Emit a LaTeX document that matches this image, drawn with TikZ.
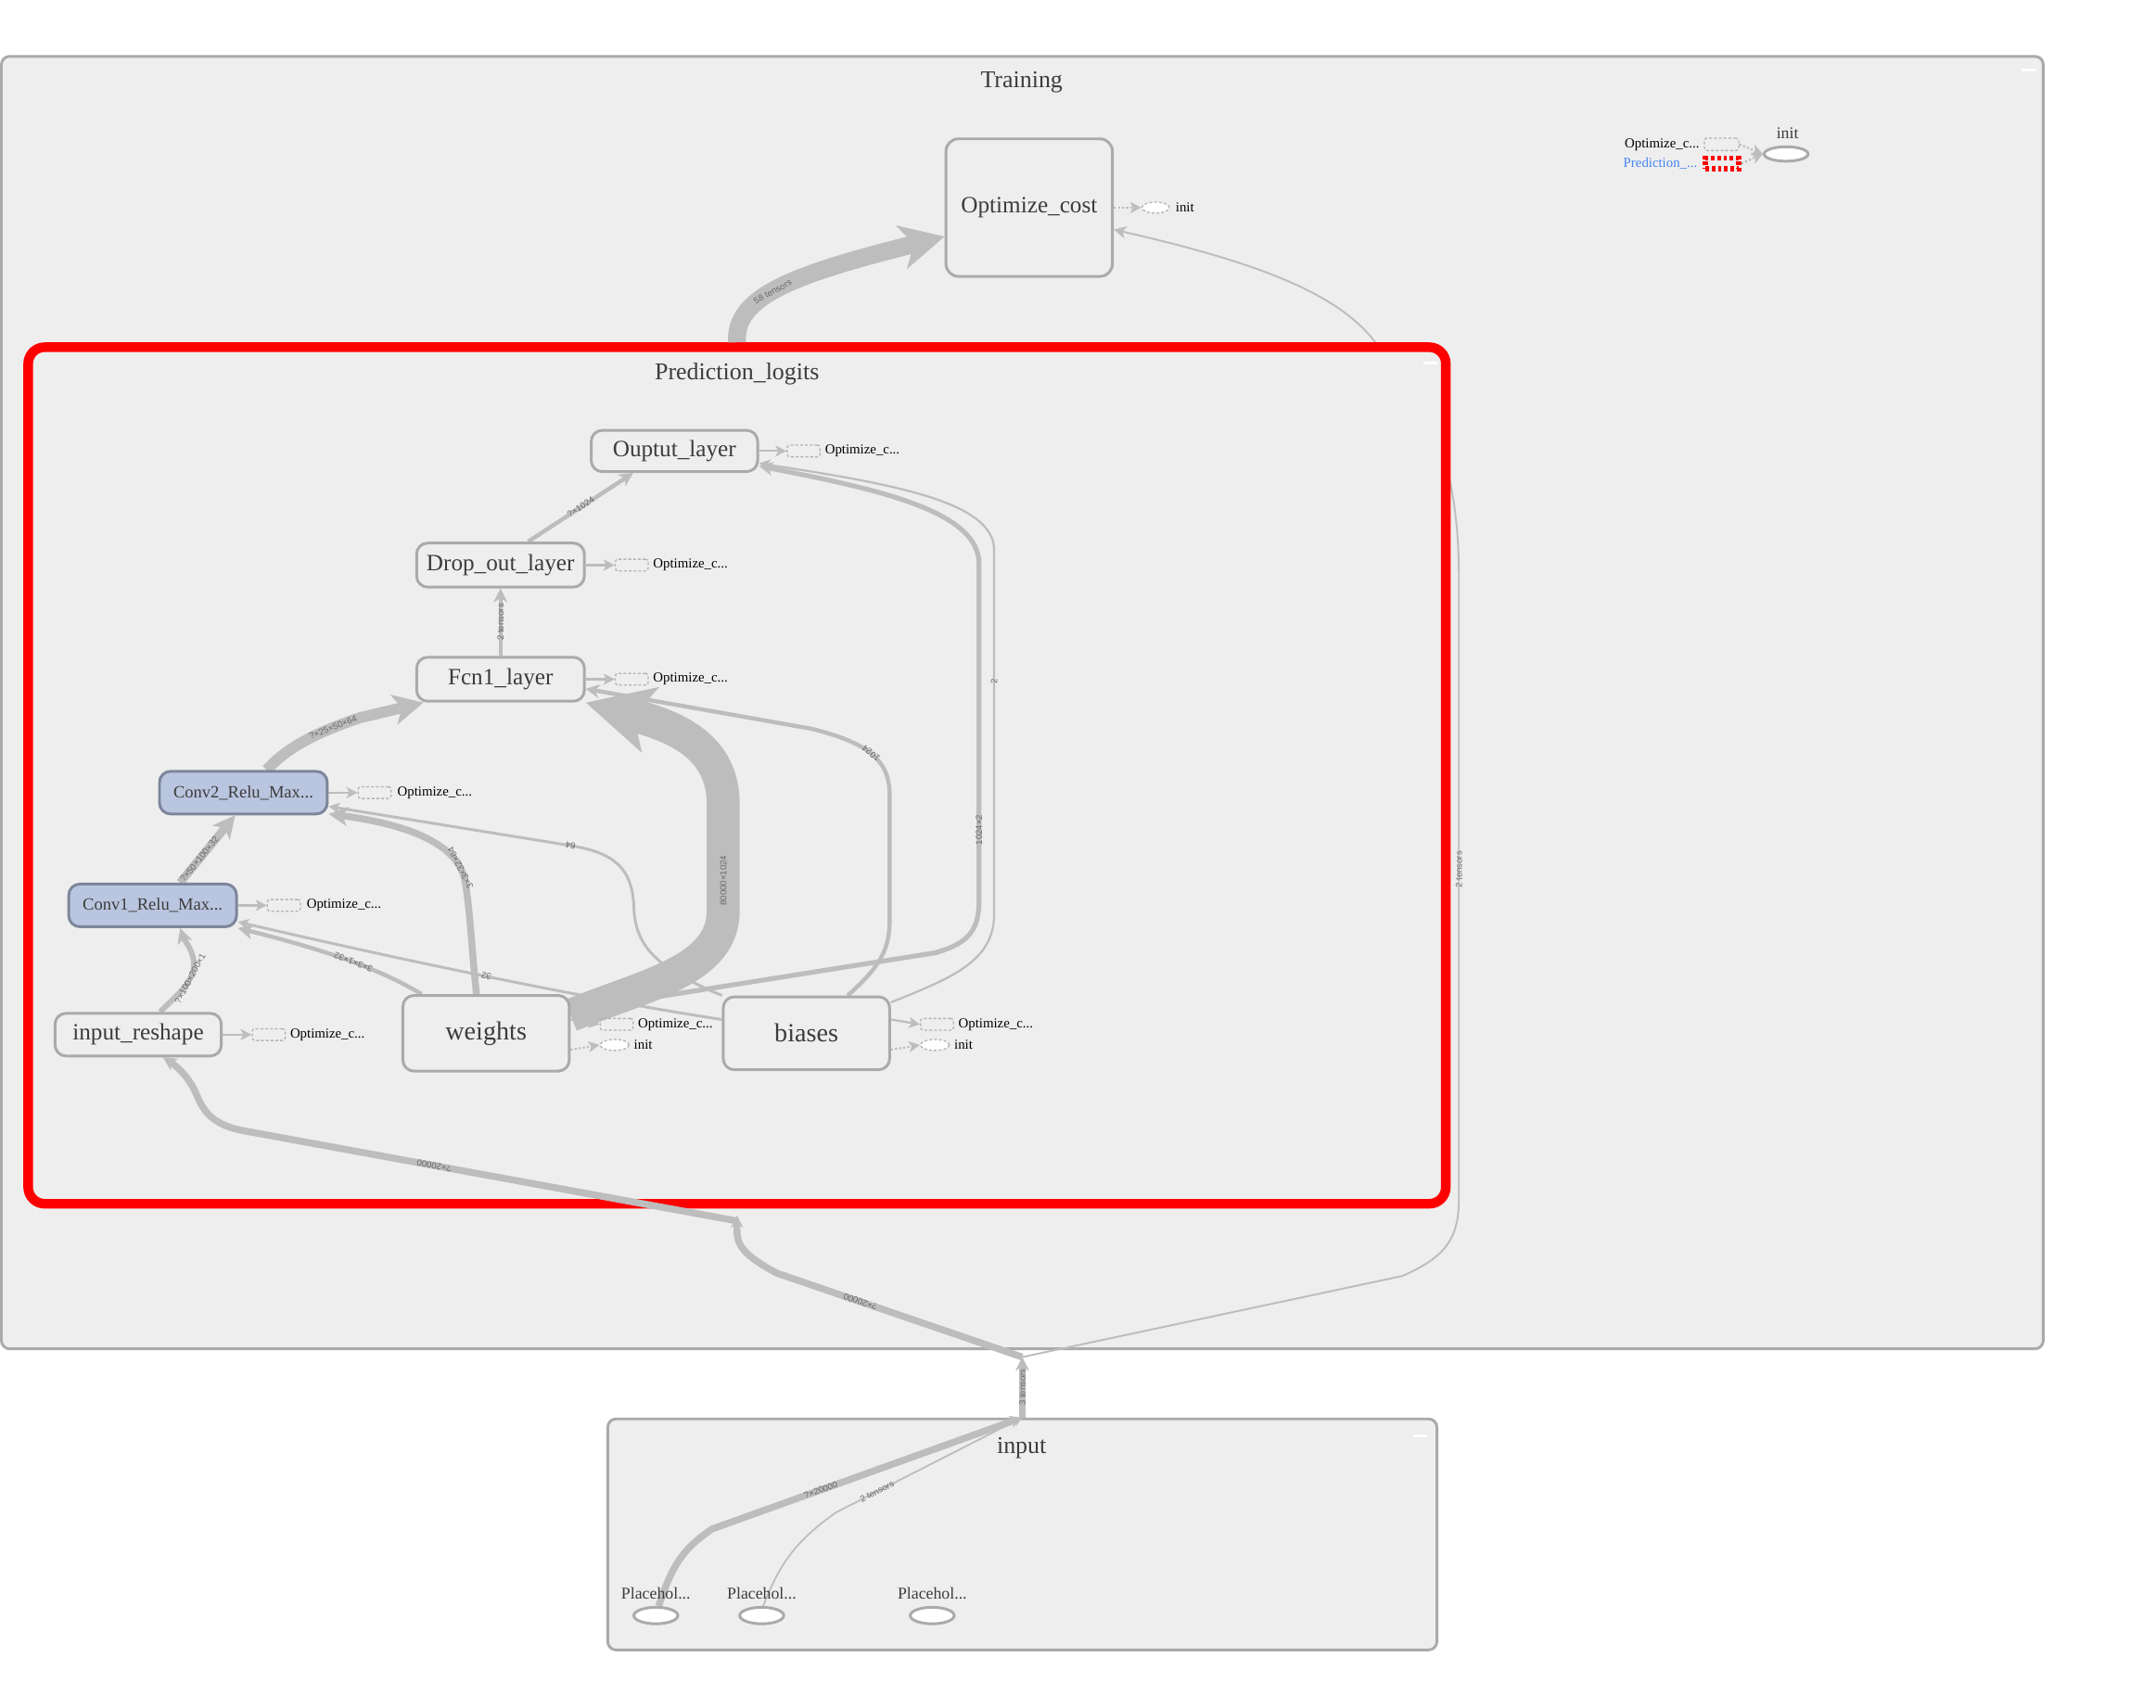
\documentclass[tikz,border=0pt]{standalone}
\usepackage{fontspec}
\setmainfont{Liberation Serif}
\newfontfamily\edgefont{Liberation Sans}
\usepackage{xcolor}
\usetikzlibrary{positioning, arrows.meta, shapes.geometric}

\definecolor{boxfill}{RGB}{238,238,238}
\definecolor{framegray}{RGB}{170,170,170}
\definecolor{edgegray}{RGB}{189,189,189}
\definecolor{labgray}{RGB}{105,105,105}
\definecolor{textgray}{RGB}{60,60,60}
\definecolor{convfill}{RGB}{186,197,223}
\definecolor{convline}{RGB}{125,134,155}
\definecolor{stubgray}{RGB}{178,178,178}
\definecolor{predblue}{RGB}{66,133,244}

\newcommand{\fsz}[1]{\fontsize{#1}{#1}\selectfont}

\pgfdeclarelayer{bg}
\pgfdeclarelayer{grp}
\pgfdeclarelayer{edges}
\pgfsetlayers{bg,grp,edges,main}

\begin{document}
\begin{tikzpicture}[
    x=1pt, y=-1pt,
    groupbox/.style={rectangle, draw=framegray, line width=2pt, fill=boxfill, rounded corners=6pt, inner sep=0pt},
    predbox/.style={rectangle, draw=red, line width=7pt, fill=boxfill, rounded corners=12pt, inner sep=0pt},
    grouptitle/.style={font=\fsz{17.5}, text=textgray},
    opnode/.style={rectangle, draw=framegray, line width=2pt, fill=boxfill, rounded corners=8pt, text=textgray, font=\fsz{17}, minimum width=121pt, minimum height=31pt, inner sep=0pt},
    convnode/.style={opnode, fill=convfill, draw=convline, font=\fsz{12.5}},
    varnode/.style={opnode, minimum height=54pt, font=\fsz{19}},
    stubrect/.style={rectangle, draw=stubgray, line width=0.9pt, dash pattern=on 2pt off 1.5pt, rounded corners=2pt, minimum width=24pt, minimum height=8.5pt, inner sep=0pt},
    stubell/.style={ellipse, draw=stubgray, line width=0.9pt, dash pattern=on 2pt off 1.5pt, fill=white, minimum width=21pt, minimum height=8pt, inner sep=0pt},
    stubtxt/.style={font=\fsz{10}, text=black, inner sep=0pt},
    phnode/.style={ellipse, draw=framegray, line width=2pt, fill=white, minimum width=32pt, minimum height=12pt, inner sep=0pt},
    phlab/.style={font=\fsz{12}, text=textgray},
    flow/.style={draw=edgegray, line width=#1},
    hd/.style 2 args={-{Stealth[length=#1, width=#1, inset=#2]}},
    outarr/.style={draw=edgegray, line width=1.5pt, -{Stealth[length=8pt, width=8pt, inset=2pt]}},
    ctrlarr/.style={draw=edgegray, line width=1.5pt, dash pattern=on 1.5pt off 1.5pt, -{Stealth[length=8pt, width=8pt, inset=2pt]}},
    elab/.style={font=\edgefont\fsz{6.5}, text=labgray, sloped, allow upside down, inner sep=1pt},
]
    \useasboundingbox (0,0) rectangle (1568,1242);

    % --- Training level ---
    \node[opnode, minimum height=100pt, rounded corners=9pt] (optcost) at (748.5,151) {Optimize\_cost};
    \node[stubell, minimum width=20pt, right=20pt of optcost] (oc-init) {};
    \node[stubtxt, right=4pt of oc-init] (oc-initlab) {init};

    \node[phnode, minimum height=10.5pt] (inittr) at (1299,112) {};
    \node[phlab] (inittrlab) at (1300,97) {init};
    \node[stubrect, minimum width=25pt, minimum height=9pt] (tr-opt) at (1252,105) {};
    \node[stubtxt, left=3pt of tr-opt] (tr-optlab) {Optimize\_c...};
    \node[rectangle, draw=red, line width=4pt, dash pattern=on 2.5pt off 2pt, minimum width=24pt, minimum height=8pt, inner sep=0pt] (tr-pred) at (1252.5,119) {};
    \node[stubtxt, text=predblue, left=4pt of tr-pred] (tr-predlab) {Prediction\_...};

    % --- Prediction_logits ---
    \node[opnode, minimum height=30pt] (ouptut) at (490.5,328) {Ouptut\_layer};
    \node[opnode, minimum width=122pt, minimum height=32pt] (dropout) at (364,411) {Drop\_out\_layer};
    \node[opnode, minimum width=122pt, minimum height=32pt] (fcn1) at (364,494) {Fcn1\_layer};
    \node[convnode, minimum width=122pt] (conv2) at (177,576.5) {Conv2\_Relu\_Max...};
    \node[convnode, minimum width=122pt] (conv1) at (111,658.5) {Conv1\_Relu\_Max...};
    \node[opnode] (reshape) at (100.5,752.5) {input\_reshape};
    \node[varnode, minimum height=55pt] (weights) at (353.5,751.5) {weights};
    \node[varnode, minimum height=53pt] (biases) at (586.5,751.5) {biases};

    \node[stubrect, right=20pt of ouptut] (ou-opt) {};
    \node[stubtxt, right=3pt of ou-opt] (ou-optlab) {Optimize\_c...};
    \node[stubrect, right=21pt of dropout] (do-opt) {};
    \node[stubtxt, right=3pt of do-opt] (do-optlab) {Optimize\_c...};
    \node[stubrect, right=21pt of fcn1] (fc-opt) {};
    \node[stubtxt, right=3pt of fc-opt] (fc-optlab) {Optimize\_c...};
    \node[stubrect, right=21pt of conv2] (c2-opt) {};
    \node[stubtxt, right=4pt of c2-opt] (c2-optlab) {Optimize\_c...};
    \node[stubrect, right=21pt of conv1] (c1-opt) {};
    \node[stubtxt, right=4pt of c1-opt] (c1-optlab) {Optimize\_c...};
    \node[stubrect, right=21pt of reshape] (rs-opt) {};
    \node[stubtxt, right=3pt of rs-opt] (rs-optlab) {Optimize\_c...};
    \node[stubrect, right=21pt of weights.east, yshift=6.5pt] (w-opt) {};
    \node[stubtxt, right=3pt of w-opt] (w-optlab) {Optimize\_c...};
    \node[stubell, right=21pt of weights.east, yshift=-8.5pt] (w-init) {};
    \node[stubtxt, right=3pt of w-init] (w-initlab) {init};
    \node[stubrect, right=21pt of biases.east, yshift=6.5pt] (b-opt) {};
    \node[stubtxt, right=3pt of b-opt] (b-optlab) {Optimize\_c...};
    \node[stubell, right=21pt of biases.east, yshift=-8.5pt] (b-init) {};
    \node[stubtxt, right=3pt of b-init] (b-initlab) {init};

    % --- input ---
    \node[phnode] (ph1) at (477,1175) {};
    \node[phnode] (ph2) at (554,1175) {};
    \node[phnode] (ph3) at (678,1175) {};
    \node[phlab] (ph1lab) at (477,1159) {Placehol...};
    \node[phlab] (ph2lab) at (554,1159) {Placehol...};
    \node[phlab] (ph3lab) at (678,1159) {Placehol...};

    % --- group titles and collapse marks ---
    \node[grouptitle] (traintitle) at (743,60) {Training};
    \node[grouptitle] (predtitle) at (536,272) {Prediction\_logits};
    \node[grouptitle] (inputtitle) at (743,1053) {input};
    \draw[white, line width=2pt] (1470,51) -- (1481,51);
    \draw[white, line width=2pt] (1035,264) -- (1045,264);
    \draw[white, line width=2pt] (1028,1044) -- (1038,1044);

    % bridge where the input enters Training
    \coordinate (trainport) at (743.5,987);

    \begin{pgfonlayer}{bg}
        \fill[white] (0,0) rectangle (1568,1242);
        \node[groupbox, minimum width=1485pt, minimum height=940pt] (training) at (743.5,511) {};
        % runs behind Prediction_logits
        \draw[flow=1.3pt, hd={9pt}{2.5pt}] (trainport) -- (1020,928) .. controls (1052,914) and (1061,900) .. (1061,872)
            -- (1061,420) node[elab, pos=0.53] {2 tensors}
            .. controls (1061,320) and (1030,285) .. (1001,250)
            .. controls (975,215) and (920,192) .. ([yshift=-16pt]optcost.east);
    \end{pgfonlayer}

    \begin{pgfonlayer}{grp}
        \node[predbox, minimum width=1031pt, minimum height=623pt] (pred) at (536,564) {};
        \node[groupbox, minimum width=603pt, minimum height=168pt] (inputgrp) at (743.5,1116) {};
    \end{pgfonlayer}

    \begin{pgfonlayer}{edges}
        % Training
        \draw[flow=13pt, hd={32pt}{9pt}] (pred.north) .. controls (534,216) and (575,200) .. ([yshift=-21pt]optcost.west)
            node[elab, pos=0.45] {58 tensors};
        \draw[flow=5pt, hd={10pt}{3pt}] (inputgrp.north) -- (trainport) node[elab, pos=0.5] {3 tensors};
        \draw[flow=5pt, hd={9pt}{3pt}] (trainport) -- (565,926) node[elab, pos=0.66] {?×20000}
            .. controls (541,913) and (536,906) .. (536,895) -- ([yshift=-5pt]pred.south);

        % Prediction_logits
        \draw[flow=5pt, hd={10pt}{3pt}] ([yshift=-9pt]pred.south) -- (175,822) node[elab, pos=0.61] {?×20000}
            .. controls (152,817) and (147,806) .. (142,794)
            .. controls (137,783) and (128,775) .. ([xshift=18pt]reshape.south);
        \draw[flow=4pt, hd={11pt}{3pt}] ([xshift=16pt]reshape.north) .. controls (128,724) and (142,714) .. (141,700)
            node[elab, pos=0.7] {?×100×200×1}
            .. controls (140,690) and (134,684) .. ([xshift=20pt]conv1.south);
        \draw[flow=6pt, hd={16pt}{4pt}] ([xshift=20pt]conv1.north) -- ([xshift=-6pt]conv2.south)
            node[elab, pos=0.35] {?×50×100×32};
        \draw[flow=8pt, hd={22pt}{6pt}] ([xshift=17pt]conv2.north) .. controls (210,542) and (235,531) .. (262,522)
            node[elab, pos=0.75] {?×25×50×64} -- ([xshift=-56pt]fcn1.south);
        \draw[flow=3pt, hd={11pt}{3pt}] ([xshift=-47pt]weights.north) .. controls (272,702) and (225,688) .. (conv1.south east)
            node[elab, pos=0.42] {3×3×1×32};
        \draw[flow=5pt, hd={14pt}{4pt}] ([xshift=-7pt]weights.north) .. controls (343,690) and (342,662) .. (338,640)
            .. controls (333,615) and (300,600) .. ([yshift=1pt]conv2.south east) node[elab, pos=0.12] {3×3×32×64};
        \draw[flow=2pt, hd={8pt}{2pt}] (biases.north west) .. controls (480,705) and (462,690) .. (461,660)
            .. controls (460,630) and (445,620) .. (415,615) node[elab, pos=1] {64} -- ([yshift=-10pt]conv2.east);
        \draw[flow=2pt, hd={8pt}{2pt}] ([yshift=10pt]biases.west) .. controls (430,727) and (300,700) .. ([yshift=-12pt]conv1.east)
            node[elab, pos=0.52] {32};
        \draw[flow=3.5pt, hd={10pt}{3pt}] ([yshift=16.5pt]weights.east) -- (680,693) .. controls (705,686) and (712,676) .. (712,655)
            -- (712,410) node[elab, pos=0.21] {1024×2}
            .. controls (712,372) and (640,356) .. ([yshift=-11pt]ouptut.east);
        \draw[flow=1.5pt, hd={8pt}{2pt}] ([yshift=-5pt]biases.north east) .. controls (690,712) and (723,700) .. (723,665)
            -- (723,400) node[elab, pos=0.64] {2}
            .. controls (723,365) and (650,352) .. ([yshift=-9pt]ouptut.east);
        \draw[flow=24pt, hd={48pt}{12pt}] ([yshift=13pt]weights.east) .. controls (470,716) and (526,706) .. (526,662)
            -- (526,585) node[elab, pos=0.28] {80000×1024}
            .. controls (526,542) and (490,528) .. (fcn1.south east);
        \draw[flow=3pt, hd={10pt}{3pt}] ([xshift=30pt]biases.north) .. controls (638,705) and (647,692) .. (647,670)
            -- (647,578) .. controls (647,552) and (630,540) .. (590,530) node[elab, pos=0.5] {1024}
            -- ([yshift=-7pt]fcn1.east);
        \draw[flow=3pt, hd={10pt}{3pt}] (fcn1.north) -- (dropout.south) node[elab, pos=0.5] {2 tensors};
        \draw[flow=3pt, hd={10pt}{3pt}] ([xshift=20pt]dropout.north) -- ([xshift=-30pt]ouptut.south)
            node[elab, pos=0.5] {?×1024};

        % input
        \draw[flow=5pt, hd={9pt}{3pt}] ([xshift=2pt]ph1.north) .. controls (488,1142) and (494,1128) .. (518,1112)
            -- (inputgrp.north) node[elab, pos=0.35] {?×20000};
        \draw[flow=1.2pt, hd={7pt}{2pt}] ([xshift=1pt]ph2.north) .. controls (568,1135) and (580,1120) .. (608,1100)
            -- (inputgrp.north) node[elab, pos=0.22] {2 tensors};

        % outputs to the summarised nodes
        \draw[ctrlarr] (optcost.east) -- (oc-init.west);
        \draw[outarr] (ouptut.east) -- (ou-opt.west);
        \draw[outarr] (dropout.east) -- (do-opt.west);
        \draw[outarr] (fcn1.east) -- (fc-opt.west);
        \draw[outarr] (conv2.east) -- (c2-opt.west);
        \draw[outarr] (conv1.east) -- (c1-opt.west);
        \draw[outarr] (reshape.east) -- (rs-opt.west);
        \draw[outarr] ([yshift=10pt]weights.east) -- (w-opt.west);
        \draw[ctrlarr] ([yshift=-12pt]weights.east) -- (w-init.west);
        \draw[outarr] ([yshift=10pt]biases.east) -- (b-opt.west);
        \draw[ctrlarr] ([yshift=-12pt]biases.east) -- (b-init.west);
        \draw[ctrlarr] (tr-opt.east) -- (inittr.west);
        \draw[ctrlarr] (tr-pred.east) -- (inittr.west);
    \end{pgfonlayer}
\end{tikzpicture}
\end{document}
